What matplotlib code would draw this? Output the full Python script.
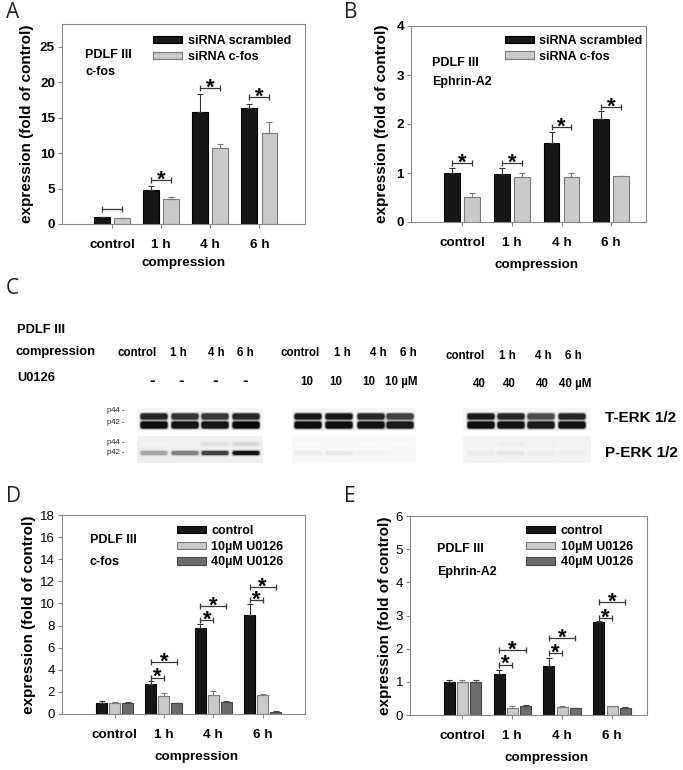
import numpy as np
import matplotlib
matplotlib.use("Agg")
import matplotlib.pyplot as plt
from matplotlib.patches import Patch, FancyBboxPatch, Rectangle

plt.rcParams["font.family"] = ["Liberation Sans", "DejaVu Sans"]

W, H = 683, 770

# ---- data -----------------------------------------------------------------
groups = ["control", "1 h", "4 h", "6 h"]

# panel A: c-fos, siRNA
a_scr = [1.0, 4.85, 15.85, 16.3]
a_scr_err = [0.0, 0.45, 2.45, 0.65]
a_fos = [0.8, 3.5, 10.75, 12.9]
a_fos_err = [0.1, 0.35, 0.6, 1.45]
a_brk = [2.05, 6.2, 19.2, 17.95]
a_star = [False, True, True, True]

# panel B: Ephrin-A2, siRNA
b_scr = [1.0, 0.97, 1.61, 2.10]
b_scr_err = [0.10, 0.13, 0.22, 0.17]
b_fos = [0.51, 0.92, 0.925, 0.945]
b_fos_err = [0.075, 0.07, 0.07, 0.0]
b_brk = [1.2, 1.2, 1.93, 2.35]
b_star = [True, True, True, True]

# panel D: c-fos, U0126
d_ctrl = [1.0, 2.72, 7.76, 8.97]
d_ctrl_err = [0.15, 0.24, 0.34, 0.97]
d_10 = [1.03, 1.63, 1.75, 1.72]
d_10_err = [0.09, 0.24, 0.3, 0.12]
d_40 = [1.03, 0.97, 1.09, 0.21]
d_40_err = [0.09, 0.05, 0.06, 0.06]
d_inner = [None, 3.3, 8.5, 10.3]
d_outer = [None, 4.73, 9.79, 11.46]

# panel E: Ephrin-A2, U0126
e_ctrl = [1.0, 1.24, 1.47, 2.81]
e_ctrl_err = [0.065, 0.13, 0.26, 0.03]
e_10 = [1.01, 0.22, 0.24, 0.26]
e_10_err = [0.05, 0.05, 0.03, 0.02]
e_40 = [1.01, 0.27, 0.21, 0.22]
e_40_err = [0.05, 0.02, 0.01, 0.02]
e_inner = [None, 1.52, 1.86, 2.93]
e_outer = [None, 1.96, 2.33, 3.41]

# panel C: western blot band intensities (0 = none, 1 = saturated)
blot_time = ["control", "1 h", "4 h", "6 h"]
blot_dose = [["-", "-", "-", "-"], ["10", "10", "10", "10 µM"], ["40", "40", "40", "40 µM"]]
terk_p44 = [[0.85, 0.8, 0.78, 0.85], [0.9, 0.9, 0.85, 0.75], [0.9, 0.85, 0.7, 0.85]]
terk_p42 = [[0.95, 0.92, 0.92, 0.97], [0.95, 0.95, 0.93, 0.9], [0.95, 0.93, 0.9, 0.93]]
perk_p44 = [[0.04, 0.06, 0.12, 0.16], [0.02, 0.03, 0.02, 0.02], [0.05, 0.07, 0.05, 0.04]]
perk_p42 = [[0.35, 0.5, 0.75, 0.92], [0.07, 0.09, 0.05, 0.04], [0.08, 0.1, 0.08, 0.07]]

BLACK, BLACK_E = "#161616", "#000000"
LIGHT, LIGHT_E = "#cacaca", "#7c7c7c"
DARK, DARK_E = "#6c6c6c", "#474747"

fig = plt.figure(figsize=(W / 100, H / 100), dpi=100)


def px_axes(left, right, top, bottom):
    return fig.add_axes([left / W, 1 - bottom / H, (right - left) / W, (bottom - top) / H])


def style_axes(ax, xlim, ylim, yticks, ybold, ylab_x, xlab_x, xlab_y):
    ax.set_xlim(*xlim)
    ax.set_ylim(*ylim)
    ax.set_yticks(yticks)
    ax.set_xticks(range(len(groups)))
    ax.set_xticklabels(groups, fontsize=9.7, fontweight="bold")
    for s in ax.spines.values():
        s.set_color("#8a8a8a")
        s.set_linewidth(0.8)
    ax.tick_params(direction="out", length=3, width=0.8, color="#8a8a8a")
    ax.tick_params(axis="x", pad=8)
    ax.tick_params(axis="y", labelsize=9.7 if ybold else 9.5, pad=2)
    if ybold:
        for t in ax.get_yticklabels():
            t.set_fontweight("bold")
    ax.set_ylabel("expression (fold of control)", fontsize=11, fontweight="bold")
    ax.yaxis.set_label_coords(ylab_x, 0.5)
    ax.set_xlabel("compression", fontsize=9.7, fontweight="bold")
    ax.xaxis.set_label_coords(xlab_x, xlab_y)


def draw_bars(ax, series, errs, fills, edges, width, offsets):
    x = np.arange(len(groups))
    for vals, err, fc, ec, off in zip(series, errs, fills, edges, offsets):
        ax.bar(x + off, vals, width, color=fc, edgecolor=ec, linewidth=0.8, zorder=2)
        err = np.asarray(err)
        ax.errorbar(x + off, vals, yerr=[np.zeros_like(err), err], fmt="none",
                    ecolor=ec if fc != BLACK else "#333333", elinewidth=0.8,
                    capsize=2.5, capthick=0.8, zorder=3)


def bracket(ax, x0, x1, y, star=True):
    ax.plot([x0, x1], [y, y], color="#3a3a3a", lw=0.9, marker="|", ms=5, mew=0.9, zorder=4)
    if star:
        ax.annotate("*", xy=((x0 + x1) / 2, y), xytext=(0, -4), textcoords="offset points",
                    ha="center", va="baseline", fontsize=16, fontweight="bold")


def note(ax, lines, x, ys):
    for txt, y in zip(lines, ys):
        ax.text(x, y, txt, transform=ax.transAxes, fontsize=9, fontweight="bold", va="center")


def legend(ax, labels, fills, edges, x, y):
    handles = [Patch(facecolor=f, edgecolor=e, linewidth=0.8, label=l)
               for l, f, e in zip(labels, fills, edges)]
    ax.legend(handles=handles, loc="upper left", bbox_to_anchor=(x, y), frameon=False,
              borderpad=0, borderaxespad=0, handlelength=2.3, handleheight=0.55,
              handletextpad=0.45, labelspacing=0.3, prop={"weight": "bold", "size": 9})


# ---- panel A --------------------------------------------------------------
axA = px_axes(62, 305, 24, 224)
draw_bars(axA, [a_scr, a_fos], [a_scr_err, a_fos_err], [BLACK, LIGHT], [BLACK_E, LIGHT_E],
          0.32, [-0.204, 0.204])
for i, (y, s) in enumerate(zip(a_brk, a_star)):
    bracket(axA, i - 0.204, i + 0.204, y, s)
style_axes(axA, (-1.02, 3.93), (0, 28.2), range(0, 30, 5), True, -0.115, 0.5, -0.165)
note(axA, ["PDLF III", "c-fos"], 0.095, [0.845, 0.76])
legend(axA, ["siRNA scrambled", "siRNA c-fos"], [BLACK, LIGHT], [BLACK_E, LIGHT_E], 0.375, 0.945)

# ---- panel B --------------------------------------------------------------
axB = px_axes(411, 646, 26, 222)
draw_bars(axB, [b_scr, b_fos], [b_scr_err, b_fos_err], [BLACK, LIGHT], [BLACK_E, LIGHT_E],
          0.315, [-0.2, 0.2])
for i, (y, s) in enumerate(zip(b_brk, b_star)):
    bracket(axB, i - 0.2, i + 0.2, y, s)
style_axes(axB, (-1.03, 3.70), (0, 4), range(0, 5), True, -0.092, 0.536, -0.19)
note(axB, ["PDLF III", "Ephrin-A2"], 0.089, [0.811, 0.714])
legend(axB, ["siRNA scrambled", "siRNA c-fos"], [BLACK, LIGHT], [BLACK_E, LIGHT_E], 0.40, 0.955)

# ---- panel D --------------------------------------------------------------
u_labels = ["control", "10µM U0126", "40µM U0126"]
axD = px_axes(62, 305, 515, 714)
draw_bars(axD, [d_ctrl, d_10, d_40], [d_ctrl_err, d_10_err, d_40_err],
          [BLACK, LIGHT, DARK], [BLACK_E, LIGHT_E, DARK_E], 0.222, [-0.263, 0, 0.263])
for i, (yi, yo) in enumerate(zip(d_inner, d_outer)):
    if yi is not None:
        bracket(axD, i - 0.263, i, yi)
        bracket(axD, i - 0.263, i + 0.263, yo)
style_axes(axD, (-1.065, 3.857), (0, 18), range(0, 20, 2), False, -0.105, 0.555, -0.186)
note(axD, ["PDLF III", "c-fos"], 0.115, [0.874, 0.764])
legend(axD, u_labels, [BLACK, LIGHT, DARK], [BLACK_E, LIGHT_E, DARK_E], 0.473, 0.95)

# ---- panel E --------------------------------------------------------------
axE = px_axes(410, 647, 516, 715)
draw_bars(axE, [e_ctrl, e_10, e_40], [e_ctrl_err, e_10_err, e_40_err],
          [BLACK, LIGHT, DARK], [BLACK_E, LIGHT_E, DARK_E], 0.221, [-0.265, 0, 0.265])
for i, (yi, yo) in enumerate(zip(e_inner, e_outer)):
    if yi is not None:
        bracket(axE, i - 0.265, i, yi)
        bracket(axE, i - 0.265, i + 0.265, yo)
style_axes(axE, (-1.05, 3.70), (0, 6), range(0, 7), False, -0.078, 0.578, -0.186)
note(axE, ["PDLF III", "Ephrin-A2"], 0.114, [0.834, 0.719])
legend(axE, u_labels, [BLACK, LIGHT, DARK], [BLACK_E, LIGHT_E, DARK_E], 0.49, 0.955)

# ---- panel C (blot) and panel letters, in figure pixel coordinates ----------
axC = fig.add_axes([0, 0, 1, 1], zorder=-1)
axC.set_xlim(0, W)
axC.set_ylim(H, 0)
axC.axis("off")

for letter, (lx, ly) in zip("ABCDE", [(6, 13), (344, 13), (6, 289), (6, 497), (344, 497)]):
    axC.text(lx, ly, letter, fontsize=15, family=["Open Sans", "DejaVu Sans"],
             va="center", ha="left", color="#222222")

axC.text(17, 330, "PDLF III", fontsize=9.3, fontweight="bold", va="center")
axC.text(16, 352, "compression", fontsize=9.3, fontweight="bold", va="center")
axC.text(17, 378, "U0126", fontsize=9.3, fontweight="bold", va="center")

lane_x = [[154, 185, 215, 246], [308, 339, 371, 400], [481, 511, 541, 572]]
time_x = [[137, 178, 216, 245], [300, 342, 378, 408], [465, 507, 543, 573]]
dose_x = [[152, 181, 215, 245], [307, 336, 369, 401], [479, 509, 542, 575]]
row_y = [(353, 380), (353, 382), (356, 384)]
blot_span = [(137, 263), (292, 416), (463, 591)]
perk_bg = ["#f0f0f0", "#f8f8f8", "#f4f4f4"]

for b in range(3):
    for t, x in zip(blot_time, time_x[b]):
        axC.text(x, row_y[b][0], t, fontsize=8.3, fontweight="bold", ha="center", va="center")
    for d, x in zip(blot_dose[b], dose_x[b]):
        axC.text(x, row_y[b][1], d, fontsize=8.3 if d != "-" else 12,
                 fontweight="bold", ha="center", va="center")
    x0, x1 = blot_span[b]
    axC.add_patch(Rectangle((x0, 408), x1 - x0, 23, color="#f6f6f6", lw=0))
    axC.add_patch(Rectangle((x0, 436), x1 - x0, 27, color=perk_bg[b], lw=0))
    for i, x in enumerate(lane_x[b]):
        for lvl, yc, h in [(terk_p44[b][i], 416.5, 6.0), (terk_p42[b][i], 425.0, 7.0),
                           (perk_p44[b][i], 444.0, 3.0), (perk_p42[b][i], 453.0, 4.0)]:
            g = 1 - lvl
            for grow, a in [(3.0, 0.15), (1.5, 0.35), (0.0, 1.0)]:
                axC.add_patch(FancyBboxPatch(
                    (x - 13.5 - grow / 2, yc - h / 2 - grow / 2), 27 + grow, h + grow,
                    boxstyle="round,pad=0,rounding_size=2.5",
                    facecolor=(g, g, g), edgecolor="none", alpha=a))

for txt, y in [("p44 -", 411), ("p42 -", 423), ("p44 -", 442), ("p42 -", 453)]:
    axC.text(107, y, txt, fontsize=5.5, va="center", color="#222222")
axC.text(605, 418, "T-ERK 1/2", fontsize=11, fontweight="bold", va="center")
axC.text(605, 453, "P-ERK 1/2", fontsize=11, fontweight="bold", va="center")

fig.savefig("out.png", dpi=100)
